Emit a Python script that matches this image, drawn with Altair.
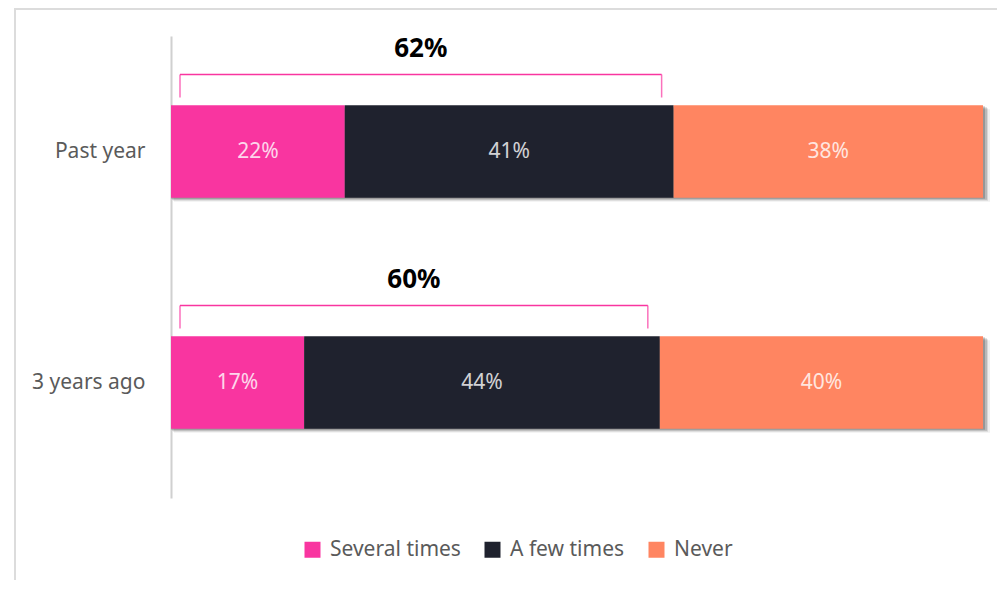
import altair as alt
import pandas as pd

categories = ["Past year", "3 years ago"]
series = ["Several times", "A few times", "Never"]
colors = ["#f935a0", "#1f222e", "#ff8561"]
several = [21.4, 16.4]
few = [40.5, 43.8]
never = [38.1, 39.8]
several_labels = ["22%", "17%"]
few_labels = ["41%", "44%"]
never_labels = ["38%", "40%"]
total_labels = ["62%", "60%"]

FONT = "Noto Sans"

rows = []
for i, cat in enumerate(categories):
    start = 0.0
    for j, (vals, labs) in enumerate(zip([several, few, never],
                                         [several_labels, few_labels, never_labels])):
        v = vals[i]
        rows.append({"category": cat, "series": series[j], "order": j,
                     "start": start, "end": start + v, "mid": start + v / 2,
                     "label": labs[i]})
        start += v
seg = pd.DataFrame(rows)

brk = pd.DataFrame({"category": categories,
                    "zero": [0.0, 0.0],
                    "total": [several[i] + few[i] for i in range(len(categories))],
                    "label": total_labels})
brk["mid"] = brk["total"] / 2

tot = pd.DataFrame({"category": categories, "zero": [0.0] * 2, "full": [100.0] * 2})

yscale = alt.Scale(domain=categories, paddingInner=0.6, paddingOuter=0.3)
xscale = alt.Scale(domain=[0, 100], nice=False, zero=True)

Y = alt.Y("category:N", scale=yscale, sort=categories,
          axis=alt.Axis(title=None, ticks=False, labelFontSize=21, labelColor="#5a5a5a",
                        labelFont=FONT, labelPadding=26, domainColor="#d0d0d0",
                        domainWidth=2, labelLimit=300))


def shadow_layer(op, xo, x2o, yo, y2o):
    return alt.Chart(tot).mark_bar(color="#000000", opacity=op, xOffset=xo, x2Offset=x2o,
                                   yOffset=yo, y2Offset=y2o).encode(
        x=alt.X("zero:Q", scale=xscale, axis=None), x2="full:Q", y=Y)


shadows = [
    shadow_layer(0.06, 3, 7, 4, 10),
    shadow_layer(0.10, 2, 5, 3, 8),
    shadow_layer(0.14, 1, 4, 2, 6),
    shadow_layer(0.18, 0, 2, 1, 4),
]

bars = alt.Chart(seg).mark_bar().encode(
    x=alt.X("start:Q", scale=xscale, axis=None),
    x2="end:Q",
    y=Y,
    color=alt.Color("series:N", scale=alt.Scale(domain=series, range=colors),
                    sort=series,
                    legend=alt.Legend(title=None, orient="none", direction="horizontal",
                                      legendX=131, legendY=503, symbolType="square",
                                      symbolSize=256, symbolStrokeWidth=0,
                                      labelFontSize=21, labelColor="#5a5a5a", labelFont=FONT,
                                      columnPadding=21, labelOffset=7, labelLimit=300)),
)

texts = alt.Chart(seg).mark_text(color="#ffffff", opacity=0.8, fontSize=21, font=FONT,
                                 baseline="middle", align="center").encode(
    x=alt.X("mid:Q", scale=xscale), y=Y, text="label:N")

BRK = "#f935a0"
top_rule = alt.Chart(brk).mark_rule(color=BRK, strokeWidth=1.5, xOffset=9, x2Offset=-12,
                                    yOffset=-77).encode(
    x=alt.X("zero:Q", scale=xscale), x2="total:Q", y=Y)
left_tick = alt.Chart(brk).mark_tick(color=BRK, thickness=1.5, size=23, orient="vertical",
                                     xOffset=9, yOffset=-65.5).encode(
    x=alt.X("zero:Q", scale=xscale), y=Y)
right_tick = alt.Chart(brk).mark_tick(color=BRK, thickness=1.5, size=23, orient="vertical",
                                      xOffset=-12, yOffset=-65.5).encode(
    x=alt.X("total:Q", scale=xscale), y=Y)
brk_text = alt.Chart(brk).mark_text(color="#000000", fontSize=26, fontWeight="bold",
                                    font=FONT, baseline="middle", align="center",
                                    xOffset=-1.5, yOffset=-103).encode(
    x=alt.X("mid:Q", scale=xscale), y=Y, text="label:N")

frame = alt.Chart(tot.head(1)).mark_rule(color="#dcdcdc", strokeWidth=2).encode(
    x=alt.value(-156), x2=alt.value(-156), y=alt.value(-28), y2=alt.value(545))
frame_top = alt.Chart(tot.head(1)).mark_rule(color="#dcdcdc", strokeWidth=2).encode(
    x=alt.value(-157), x2=alt.value(830), y=alt.value(-27), y2=alt.value(-27))

chart = alt.layer(frame, frame_top, *shadows, bars, texts, top_rule, left_tick,
                  right_tick, brk_text).properties(
    width=812, height=462,
    autosize=alt.AutoSizeParams(type="none"),
    padding={"left": 163, "top": 28, "right": 14, "bottom": 82},
).configure(font=FONT).configure_view(stroke=None)

chart.save("out.html", embed_options={"renderer": "svg", "actions": False})
